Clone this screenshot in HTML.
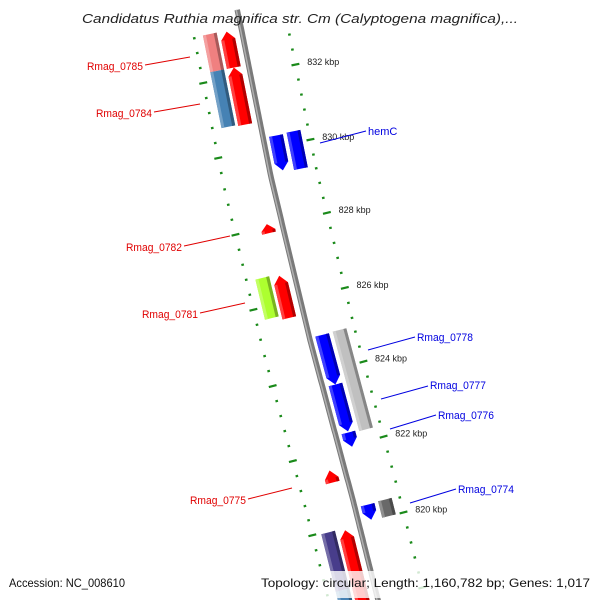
<!DOCTYPE html>
<html><head><meta charset="utf-8"><style>
html,body{margin:0;padding:0;background:#fff;overflow:hidden;width:600px;height:600px;}
svg{display:block;font-family:"Liberation Sans",sans-serif;}
</style></head><body>
<svg id="map" width="600" height="600" viewBox="0 0 600 600" xmlns="http://www.w3.org/2000/svg">
<defs><clipPath id="clip"><rect x="0" y="0" width="600" height="600"/></clipPath></defs>
<rect width="600" height="600" fill="#fff"/>
<g clip-path="url(#clip)">
<g id="ticks"></g>
<g id="backbone"></g>
<g id="genes"></g>
</g>
<g id="kbplabels"></g>
<g font-size="11">
  <g fill="#e00000" stroke="none" text-anchor="end">
    <text x="143" y="70" textLength="56" lengthAdjust="spacingAndGlyphs">Rmag_0785</text>
    <text x="152" y="117" textLength="56" lengthAdjust="spacingAndGlyphs">Rmag_0784</text>
    <text x="182" y="251" textLength="56" lengthAdjust="spacingAndGlyphs">Rmag_0782</text>
    <text x="198" y="318" textLength="56" lengthAdjust="spacingAndGlyphs">Rmag_0781</text>
    <text x="246" y="504" textLength="56" lengthAdjust="spacingAndGlyphs">Rmag_0775</text>
  </g>
  <g stroke="#e00000" stroke-width="1">
    <line x1="145" y1="65" x2="190" y2="57"/>
    <line x1="154" y1="112" x2="200" y2="104"/>
    <line x1="184" y1="246" x2="230" y2="236"/>
    <line x1="200" y1="313" x2="245" y2="303"/>
    <line x1="248" y1="499" x2="292" y2="488"/>
  </g>
  <g fill="#0000e0">
    <text x="368" y="135">hemC</text>
    <text x="417" y="341" textLength="56" lengthAdjust="spacingAndGlyphs">Rmag_0778</text>
    <text x="430" y="389" textLength="56" lengthAdjust="spacingAndGlyphs">Rmag_0777</text>
    <text x="438" y="419" textLength="56" lengthAdjust="spacingAndGlyphs">Rmag_0776</text>
    <text x="458" y="493" textLength="56" lengthAdjust="spacingAndGlyphs">Rmag_0774</text>
  </g>
  <g stroke="#0000e0" stroke-width="1">
    <line x1="320" y1="143" x2="366" y2="131"/>
    <line x1="368" y1="350" x2="415" y2="337"/>
    <line x1="381" y1="399" x2="428" y2="386"/>
    <line x1="390" y1="429" x2="436" y2="415"/>
    <line x1="410" y1="503" x2="456" y2="489"/>
  </g>
</g>
<rect x="0" y="571" width="600" height="27" fill="#fff" fill-opacity="0.8"/>
<text x="9" y="587" font-size="12" fill="#111" textLength="116" lengthAdjust="spacingAndGlyphs">Accession: NC_008610</text>
<text x="261" y="587" font-size="12" fill="#111" textLength="329" lengthAdjust="spacingAndGlyphs">Topology: circular; Length: 1,160,782 bp; Genes: 1,017</text>
<text x="82" y="23" font-size="13" font-style="italic" fill="#222" textLength="436" lengthAdjust="spacingAndGlyphs">Candidatus Ruthia magnifica str. Cm (Calyptogena magnifica),...</text>
</svg>
<script>
// gene data (kbp start, kbp end)
const geneNames = ["Rmag_0785","Rmag_0784","Rmag_0781","Rmag_077x","Rmag_077y","r1","r2","Rmag_0782","Rmag_0781r","Rmag_0775","rb","hemC","Rmag_0778","Rmag_0777","Rmag_0776","Rmag_0774","hemC2","Rmag_0778g","Rmag_0774g"];
const geneStart = [832.24,830.75,825.68,818.43,817.0,832.24,830.72,827.84,825.58,821.20,817.0,829.35,823.62,822.37,821.96,820.02,829.30,822.30,820.00];
const geneEnd   = [833.23,832.24,826.75,819.97,818.43,833.20,832.24,828.08,826.70,821.52,819.92,830.28,824.95,823.62,822.34,820.42,830.30,824.97,820.44];
const geneTrack = ["LO","LO","LO","LO","LO","LI","LI","LI","LI","LI","LI","RI","RI","RI","RI","RI","RO","RO","RO"];
const geneShape = ["box","box","box","box","box","up","up","up","up","up","up","down","down","down","down","down","box","box","box"];
const geneColor = ["#f08080","#4682b4","#adff2f","#483d8b","#4682b4","#ff0000","#ff0000","#ff0000","#ff0000","#ff0000","#ff0000","#0000ff","#0000ff","#0000ff","#0000ff","#0000ff","#0000ff","#c0c0c0","#696969"];
const majorTicks = [834,832,830,828,826,824,822,820,818];
const majorLabels = ["834 kbp","832 kbp","830 kbp","828 kbp","826 kbp","824 kbp","822 kbp","820 kbp","818 kbp"];

const NS="http://www.w3.org/2000/svg";
const bbY=[0,27,177,340,500,600,650];
const bbX=[235,241,271,310,353,378,390];
function bx(sy){for(let i=0;i<bbY.length-1;i++){if(sy<=bbY[i+1]||i==bbY.length-2){const t=(sy-bbY[i])/(bbY[i+1]-bbY[i]);return bbX[i]+t*(bbX[i+1]-bbX[i]);}}}
function kToY(k){return 73.6+(832-k)*37.5;}
function pt(k,o){const sy=kToY(k);const x=bx(sy);const sl=(bx(sy+3)-bx(sy-3))/6;const a=Math.atan(sl);return [x+o*Math.cos(a),sy-o*Math.sin(a)];}
function mk(tag,attrs,parent){const e=document.createElementNS(NS,tag);for(const k in attrs)e.setAttribute(k,attrs[k]);parent.appendChild(e);return e;}
function poly(pts){return pts.map(p=>p[0].toFixed(1)+","+p[1].toFixed(1)).join(" ");}
function shade(c,f){const n=parseInt(c.slice(1),16);let r=n>>16,g=(n>>8)&255,b=n&255;const m=v=>Math.max(0,Math.min(255,Math.round(f>1?v+(255-v)*(f-1):v*f)));return "rgb("+m(r)+","+m(g)+","+m(b)+")";}

// backbone
const bg=document.getElementById('backbone');
let bpts=[];for(let k=833.7;k>=816.5;k-=0.1)bpts.push(pt(k,0));
const b1=mk('polyline',{points:poly(bpts),fill:'none',stroke:'#7a7a7a','stroke-width':5.5},bg);


const b2=mk('polyline',{points:poly(bpts.map(p=>[p[0]-1,p[1]])),fill:'none',stroke:'#b0b0b0','stroke-width':1.5},bg);



// ticks
const tg=document.getElementById('ticks');
const lg=document.getElementById('kbplabels');
const trackO=[-48,46];
for(let k=834.0;k>=816;k=Math.round((k-0.4)*10)/10){
  const isMajor=majorTicks.some(m=>Math.abs(m-k)<0.01);
  trackO.forEach(o=>{
    const len=isMajor?4:1.3;
    const p1=pt(k,o-len),p2=pt(k,o+len);
    if(p1[1]<30)return;
    const l=mk('line',{x1:p1[0],y1:p1[1],x2:p2[0],y2:p2[1],stroke:'#1a8a1a','stroke-width':2.2},tg);
    
    
  });
}
majorTicks.forEach((k,i)=>{
  const p=pt(k,58);
  if(p[1]<30||p[1]>560)return;
  const t=mk('text',{x:p[0].toFixed(1),y:(p[1]+3).toFixed(1),'font-size':9,fill:'#222'},lg);
  t.textContent=majorLabels[i];
  
  
});

// genes
const gg=document.getElementById('genes');
const trackOff={LO:-32,LI:-15,RI:13,RO:31};
const head=0.21;
geneNames.forEach((nm,i)=>{
  const o=trackOff[geneTrack[i]],w=7;
  const s=geneStart[i],e=geneEnd[i],sh=geneShape[i];
  let pts;
  if(sh==='box'){pts=[pt(e,o-w),pt(e,o+w),pt(s,o+w),pt(s,o-w)];}
  else if(sh==='up'){const h=Math.min(head,(e-s)*0.7);pts=[pt(e,o),pt(e-h,o+w),pt(s,o+w),pt(s,o-w),pt(e-h,o-w)];}
  else {const h=Math.min(head,(e-s)*0.7);pts=[pt(s,o),pt(s+h,o+w),pt(e,o+w),pt(e,o-w),pt(s+h,o-w)];}
  const g=mk('g',{},gg);
  
  
  mk('polygon',{points:poly(pts),fill:geneColor[i]},g);
  let ept;
  if(sh==='box')ept=[pt(e,o+w-3),pt(e,o+w),pt(s,o+w),pt(s,o+w-3)];
  else if(sh==='up'){const h=Math.min(head,(e-s)*0.7);ept=[pt(e-h,o+w-3),pt(e-h,o+w),pt(s,o+w),pt(s,o+w-3)];}
  else {const h=Math.min(head,(e-s)*0.7);ept=[pt(s+h,o+w-3),pt(s+h,o+w),pt(e,o+w),pt(e,o+w-3)];}
  mk('polygon',{points:poly(ept),fill:shade(geneColor[i],0.7)},g);
  let lpt;
  if(sh==='box')lpt=[pt(e,o-w),pt(e,o-w+3),pt(s,o-w+3),pt(s,o-w)];
  else if(sh==='up'){const h=Math.min(head,(e-s)*0.7);lpt=[pt(e-h,o-w),pt(e-h,o-w+3),pt(s,o-w+3),pt(s,o-w)];}
  else {const h=Math.min(head,(e-s)*0.7);lpt=[pt(s+h,o-w),pt(s+h,o-w+3),pt(e,o-w+3),pt(e,o-w)];}
  mk('polygon',{points:poly(lpt),fill:shade(geneColor[i],1.25)},g);
});
</script>
</body></html>
